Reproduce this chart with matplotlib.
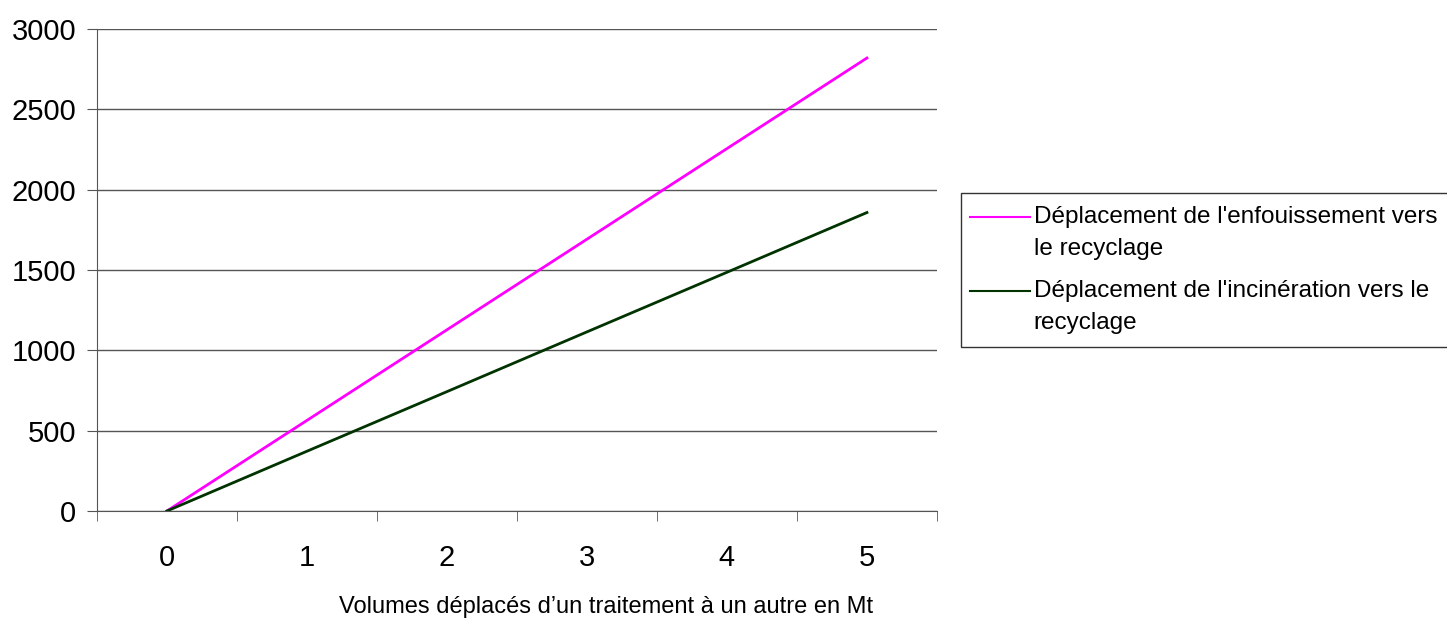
import matplotlib.pyplot as plt

plt.rcParams['font.family'] = ['Liberation Sans', 'DejaVu Sans']

volumes = [0, 1, 2, 3, 4, 5]
enfouissement = [0, 564, 1128, 1692, 2256, 2820]
incineration = [0, 372, 743, 1115, 1486, 1858]
labels = ["Déplacement de l'enfouissement vers\nle recyclage",
          "Déplacement de l'incinération vers le\nrecyclage"]

fig = plt.figure(figsize=(14.47, 6.19), dpi=100)
ax = fig.add_axes([0.067, 0.1745, 0.5805, 0.7785])

ax.plot(volumes, enfouissement, color='#ff00ff', lw=2, label=labels[0])
ax.plot(volumes, incineration, color='#003300', lw=2, label=labels[1])

ax.set_xlim(-0.5, 5.5)
ax.set_ylim(0, 3000)
ax.set_yticks(range(0, 3001, 500))
ax.set_xticks(volumes)
ax.set_xticks([v - 0.5 for v in volumes] + [5.5], minor=True)
ax.tick_params(axis='x', which='major', length=0, pad=24, labelsize=21)
ax.tick_params(axis='x', which='minor', length=7, color='#555555')
ax.tick_params(axis='y', length=7, color='#555555', labelsize=21, pad=8)
ax.grid(axis='y', color='#555555', lw=1)
ax.set_axisbelow(True)
for s in ['top', 'right']:
    ax.spines[s].set_visible(False)
for s in ['left', 'bottom']:
    ax.spines[s].set_color('#555555')

ax.set_xlabel("Volumes déplacés d\u2019un traitement à un autre en Mt", fontsize=17, va='center')
ax.xaxis.set_label_coords(0.606, -0.2)

leg = fig.legend(loc='upper left', bbox_to_anchor=(0.664, 0.688), fontsize=17.5,
                 frameon=True, fancybox=False, edgecolor='black', handlelength=2.45,
                 handletextpad=0.0, borderpad=0.55, labelspacing=0.8, borderaxespad=0)
leg.get_frame().set_linewidth(1)
for t in leg.get_texts():
    t.set_linespacing(1.58)
for l in leg.get_lines():
    l.set_linewidth(1.5)
    y = l.get_ydata()
    l.set_ydata([v + 11.5 for v in y])
    x = l.get_xdata()
    l.set_xdata([v - 3 for v in x])

fig.savefig('out.png', dpi=100)
